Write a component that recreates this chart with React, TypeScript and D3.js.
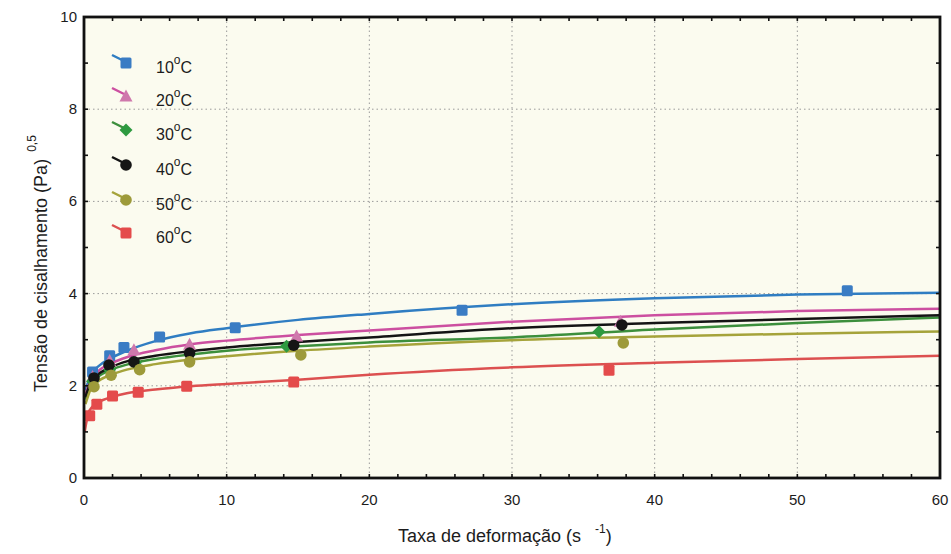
import React from "react";
import * as d3 from "d3";

const WIDTH = 951;
const HEIGHT = 554;

// Axis ticks
const xTicks = [0, 10, 20, 30, 40, 50, 60];
const yTicks = [0, 2, 4, 6, 8, 10];
const xMinorTicks = [2, 4, 6, 8, 12, 14, 16, 18, 22, 24, 26, 28, 32, 34, 36, 38, 42, 44, 46, 48, 52, 54, 56, 58];
const yMinorTicks = [1, 3, 5, 7, 9];
const xGrid = [10, 20, 30, 40, 50];
const yGrid = [2, 4, 6, 8];

// Series labels (temperature, °C)
const temperatures = ["10", "20", "30", "40", "50", "60"];

// Measured points: [shear rate (1/s), sqrt(shear stress) (Pa^0.5)]
const points10: [number, number][] = [[0.6, 2.3], [1.8, 2.65], [2.8, 2.83], [5.3, 3.06], [10.6, 3.26], [26.5, 3.64], [53.5, 4.06]];
const points20: [number, number][] = [[0.6, 2.2], [1.8, 2.55], [3.5, 2.78], [7.4, 2.9], [14.9, 3.08], [37.6, 3.4]];
const points30: [number, number][] = [[0.6, 2.1], [1.8, 2.35], [3.6, 2.5], [7.4, 2.68], [14.2, 2.86], [36.1, 3.17]];
const points40: [number, number][] = [[0.7, 2.17], [1.75, 2.45], [3.5, 2.52], [7.4, 2.71], [14.7, 2.88], [37.7, 3.32]];
const points50: [number, number][] = [[0.7, 1.98], [1.9, 2.23], [3.9, 2.35], [7.4, 2.52], [15.2, 2.67], [37.8, 2.93]];
const points60: [number, number][] = [[0.4, 1.35], [0.9, 1.6], [2.0, 1.78], [3.8, 1.86], [7.2, 1.99], [14.7, 2.08], [36.8, 2.34]];

// Fitted curves, sampled along the shear-rate axis
const fit10: [number, number][] = [[0.1, 1.9], [0.5, 2.25], [1, 2.42], [2, 2.62], [3, 2.76], [5, 2.97], [7.5, 3.14], [10, 3.25], [15, 3.43], [20, 3.56], [30, 3.77], [40, 3.9], [50, 3.98], [60, 4.02]];
const fit20: [number, number][] = [[0.1, 1.8], [0.5, 2.15], [1, 2.32], [2, 2.5], [3, 2.62], [5, 2.77], [7.5, 2.9], [10, 2.98], [15, 3.1], [20, 3.2], [30, 3.39], [40, 3.53], [50, 3.62], [60, 3.67]];
const fit30: [number, number][] = [[0.1, 1.7], [0.5, 2.05], [1, 2.2], [2, 2.36], [3, 2.46], [5, 2.58], [7.5, 2.68], [10, 2.76], [15, 2.86], [20, 2.94], [30, 3.05], [40, 3.22], [50, 3.36], [60, 3.48]];
const fit40: [number, number][] = [[0.1, 1.75], [0.5, 2.1], [1, 2.25], [2, 2.42], [3, 2.53], [5, 2.65], [7.5, 2.75], [10, 2.83], [15, 2.95], [20, 3.05], [30, 3.25], [40, 3.36], [50, 3.45], [60, 3.53]];
const fit50: [number, number][] = [[0.1, 1.6], [0.5, 1.95], [1, 2.1], [2, 2.25], [3, 2.35], [5, 2.47], [7.5, 2.57], [10, 2.64], [15, 2.76], [20, 2.85], [30, 2.99], [40, 3.07], [50, 3.13], [60, 3.18]];
const fit60: [number, number][] = [[0.05, 1.0], [0.3, 1.4], [0.6, 1.55], [1, 1.64], [2, 1.76], [3, 1.84], [5, 1.92], [7.5, 1.99], [10, 2.04], [15, 2.13], [20, 2.24], [30, 2.4], [40, 2.5], [50, 2.58], [60, 2.65]];

const seriesPoints = [points10, points20, points30, points40, points50, points60];
const seriesFits = [fit10, fit20, fit30, fit40, fit50, fit60];
const lineColors = ["#2f7dc2", "#cc4fa0", "#3c8f3c", "#141414", "#a5a33a", "#dc5050"];
const markerColors = ["#3a7cc4", "#cf78ac", "#2e9a40", "#151515", "#9d9a3a", "#e44b4b"];
const markerShapes = ["square", "triangle", "diamond", "circle", "circle", "square"];

const PLOT = { left: 84, right: 940, top: 17, bottom: 478 };
const FONT = "'Liberation Sans', Arial, sans-serif";
const TEXT = "#1c1c1c";

function Marker({ shape, x, y, color, size = 11 }: { shape: string; x: number; y: number; color: string; size?: number }) {
  const h = size / 2;
  if (shape === "square") {
    return <rect x={x - h} y={y - h} width={size} height={size} rx={1.5} fill={color} />;
  }
  if (shape === "triangle") {
    return <path d={`M${x},${y - h - 1}L${x + h + 1},${y + h}L${x - h - 1},${y + h}Z`} fill={color} />;
  }
  if (shape === "diamond") {
    return <path d={`M${x},${y - h - 1}L${x + h + 1},${y}L${x},${y + h + 1}L${x - h - 1},${y}Z`} fill={color} />;
  }
  return <circle cx={x} cy={y} r={h + 0.3} fill={color} />;
}

export default function App() {
  const x = d3.scaleLinear().domain([0, 60]).range([PLOT.left, PLOT.right]);
  const y = d3.scaleLinear().domain([0, 10]).range([PLOT.bottom, PLOT.top]);
  const line = d3
    .line<[number, number]>()
    .x((d) => x(d[0]))
    .y((d) => y(d[1]))
    .curve(d3.curveMonotoneX);

  const legendRows = [63, 96, 130, 165, 200, 233];
  const tickLen = 4;

  return (
    <svg
      width={WIDTH}
      height={HEIGHT}
      style={{ position: "fixed", left: 0, top: 0, background: "#ffffff" }}
      fontFamily={FONT}
    >
      <rect x={0} y={0} width={WIDTH} height={HEIGHT} fill="#ffffff" />
      <rect
        x={PLOT.left}
        y={PLOT.top}
        width={PLOT.right - PLOT.left}
        height={PLOT.bottom - PLOT.top}
        fill="#fbfbef"
      />

      {/* dotted grid */}
      <g stroke="#9a9a9a" strokeWidth={1} strokeDasharray="1.5,3">
        {xGrid.map((v) => (
          <line key={`gx${v}`} x1={x(v)} x2={x(v)} y1={PLOT.top} y2={PLOT.bottom} />
        ))}
        {yGrid.map((v) => (
          <line key={`gy${v}`} x1={PLOT.left} x2={PLOT.right} y1={y(v)} y2={y(v)} />
        ))}
      </g>

      {/* fitted curves */}
      <g fill="none" strokeWidth={2.5}>
        {seriesFits.map((f, i) => (
          <path key={`fit${i}`} d={line(f) ?? ""} stroke={lineColors[i]} />
        ))}
      </g>

      {/* measured points */}
      <g>
        {seriesPoints.map((pts, i) =>
          pts.map((p, j) => (
            <Marker key={`p${i}-${j}`} shape={markerShapes[i]} x={x(p[0])} y={y(p[1])} color={markerColors[i]} />
          ))
        )}
      </g>

      {/* frame and ticks */}
      <g stroke="#111" strokeWidth={1.6}>
        {[...xTicks, ...xMinorTicks].map((v) => (
          <g key={`tx${v}`}>
            <line x1={x(v)} x2={x(v)} y1={PLOT.bottom} y2={PLOT.bottom - tickLen} />
            <line x1={x(v)} x2={x(v)} y1={PLOT.top} y2={PLOT.top + tickLen} />
          </g>
        ))}
        {[...yTicks, ...yMinorTicks].map((v) => (
          <g key={`ty${v}`}>
            <line x1={PLOT.left} x2={PLOT.left + tickLen} y1={y(v)} y2={y(v)} />
            <line x1={PLOT.right} x2={PLOT.right - tickLen} y1={y(v)} y2={y(v)} />
          </g>
        ))}
      </g>
      <rect
        x={PLOT.left}
        y={PLOT.top}
        width={PLOT.right - PLOT.left}
        height={PLOT.bottom - PLOT.top}
        fill="none"
        stroke="#111"
        strokeWidth={2.8}
      />

      {/* tick labels */}
      <g fill={TEXT} fontSize={15}>
        {xTicks.map((v) => (
          <text key={`lx${v}`} x={x(v)} y={505} textAnchor="middle">
            {v}
          </text>
        ))}
        {yTicks.map((v) => (
          <text key={`ly${v}`} x={77} y={y(v) + 5} textAnchor="end">
            {v}
          </text>
        ))}
      </g>

      {/* axis titles */}
      <text x={398} y={542} fill={TEXT} fontSize={18}>
        Taxa de deformação (s
        <tspan dx={14} dy={-9} fontSize={12}>
          -1
        </tspan>
        <tspan dy={9}>)</tspan>
      </text>
      <g transform="translate(47,392) rotate(-90)">
        <text x={0} y={0} fill={TEXT} fontSize={18}>
          Tensão de cisalhamento (Pa)
          <tspan dx={7} dy={-11} fontSize={12}>
            0,5
          </tspan>
        </text>
      </g>

      {/* legend */}
      <g>
        {temperatures.map((t, i) => {
          const cy = legendRows[i];
          const cx = 126;
          return (
            <g key={`lg${t}`}>
              <line x1={cx - 14} x2={cx - 2} y1={cy - 8} y2={cy - 2} stroke={lineColors[i]} strokeWidth={2.4} />
              <Marker shape={markerShapes[i]} x={cx} y={cy} color={markerColors[i]} />
              <text x={156} y={cy + 10} fill={TEXT} fontSize={16}>
                {t}
                <tspan dy={-9} fontSize={12}>
                  o
                </tspan>
                <tspan dy={9}>C</tspan>
              </text>
            </g>
          );
        })}
      </g>
    </svg>
  );
}
